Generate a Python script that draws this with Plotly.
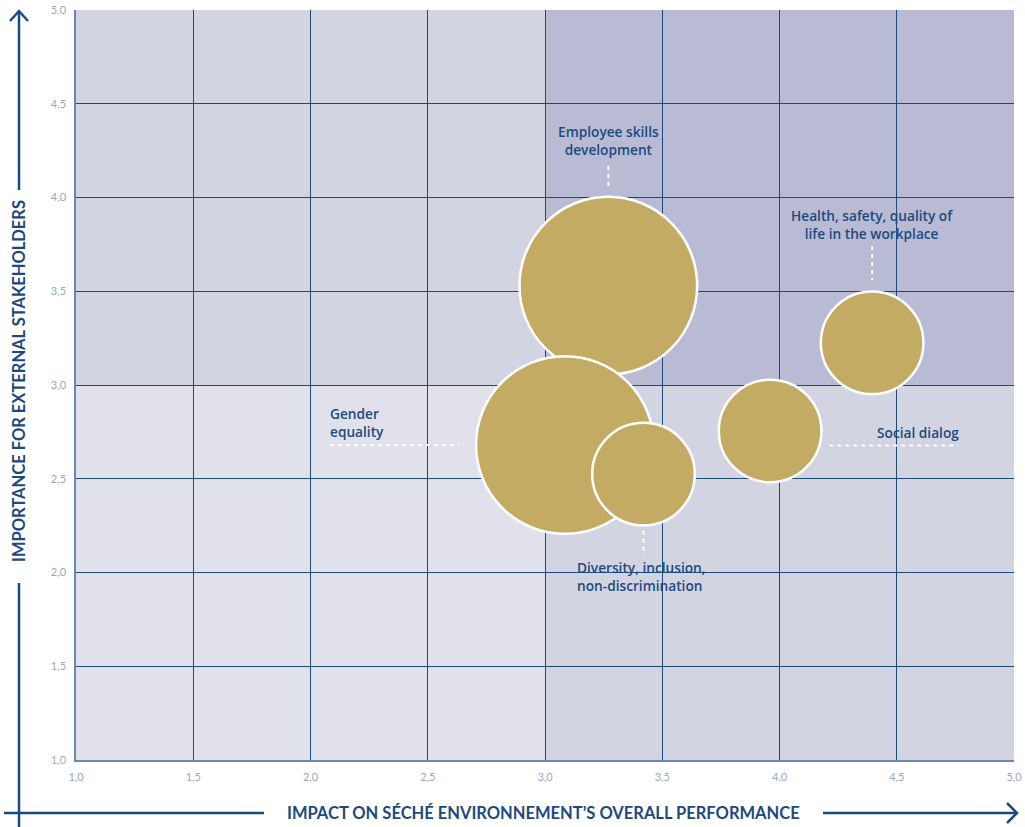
import plotly.graph_objects as go

# Materiality matrix: social topics
topics = [
    "Employee skills development",
    "Gender equality",
    "Diversity, inclusion, non-discrimination",
    "Social dialog",
    "Health, safety, quality of life in the workplace",
]
impact = [3.27, 3.085, 3.42, 3.96, 4.395]          # x: impact on overall performance
importance = [3.53, 2.68, 2.525, 2.755, 3.225]     # y: importance for stakeholders
weight = [3, 3, 1, 1, 1]                           # bubble weight (area)

ticks = [1.0, 1.5, 2.0, 2.5, 3.0, 3.5, 4.0, 4.5, 5.0]

NAVY = "#1d4a7e"
GOLD = "#c4ab64"
TICK = "#97a7c3"
FONT = "Lato"
LABEL_FONT = "Open Sans"

fig = go.Figure()

fig.add_trace(go.Scatter(
    x=impact, y=importance, mode="markers",
    text=topics, hoverinfo="text",
    marker=dict(size=weight, sizemode="area", sizeref=1.9 / 10000,
                color=GOLD, opacity=1, line=dict(color="white", width=2.5)),
    showlegend=False,
))

# Quadrant backgrounds
quads = [
    (1, 3, 3, 5, "#d3d4e2"),
    (3, 5, 3, 5, "#b9bbd4"),
    (1, 3, 1, 3, "#e0e1ea"),
    (3, 5, 1, 3, "#d3d4e2"),
]
shapes = []
for x0, x1, y0, y1, c in quads:
    shapes.append(dict(type="rect", xref="x", yref="y", x0=x0, x1=x1, y0=y0, y1=y1,
                       fillcolor=c, line=dict(width=0), layer="below"))

# Dashed connectors from labels to bubbles
dash = dict(color="white", width=2, dash="4px,4px")
connectors = [
    (impact[0], 4.17, impact[0], 4.05),
    (2.083, importance[1], 2.633, importance[1]),
    (impact[2], 2.223, impact[2], 2.093),
    (4.212, 2.678, 4.76, 2.678),
    (impact[4], 3.74, impact[4], 3.56),
]
for x0, y0, x1, y1 in connectors:
    shapes.append(dict(type="line", xref="x", yref="y", x0=x0, y0=y0, x1=x1, y1=y1,
                       line=dash, layer="above"))

# Axis arrows in paper coordinates (plot area spans 76..1014 x 10..760 px)
def px(x):
    return (x - 76) / 938

def py(y):
    return (760 - y) / 750

arrow = dict(color=NAVY, width=2.5)
shapes += [
    dict(type="line", xref="paper", yref="paper", x0=px(19), x1=px(19), y0=py(11), y1=py(190), line=arrow),
    dict(type="line", xref="paper", yref="paper", x0=px(19), x1=px(19), y0=py(583), y1=py(830), line=arrow),
    dict(type="path", xref="paper", yref="paper",
         path=f"M {px(10)} {py(21)} L {px(19)} {py(11)} L {px(28)} {py(21)}", line=arrow),
    dict(type="line", xref="paper", yref="paper", x0=px(4), x1=px(264), y0=py(813), y1=py(813), line=arrow),
    dict(type="line", xref="paper", yref="paper", x0=px(823), x1=px(1017), y0=py(813), y1=py(813), line=arrow),
    dict(type="path", xref="paper", yref="paper",
         path=f"M {px(1007)} {py(803)} L {px(1017)} {py(813)} L {px(1007)} {py(823)}", line=arrow),
]

lab = dict(family=LABEL_FONT, size=13.7, color=NAVY, weight=600)
annotations = [
    dict(x=impact[0], y=4.305, text="Employee skills<br>development", align="center",
         xanchor="center", yanchor="middle"),
    dict(x=2.074, y=2.8, text="Gender<br>equality", align="left",
         xanchor="left", yanchor="middle"),
    dict(x=3.126, y=1.979, text="Diversity, inclusion,<br>non-discrimination", align="left",
         xanchor="left", yanchor="middle"),
    dict(x=4.772, y=2.749, text="Social dialog", align="right",
         xanchor="right", yanchor="middle"),
    dict(x=impact[4], y=3.857, text="Health, safety, quality of<br>life in the workplace", align="center",
         xanchor="center", yanchor="middle"),
]
for a in annotations:
    a.update(xref="x", yref="y", showarrow=False, font=lab)

title_font = dict(family=FONT, size=16.5, color=NAVY, weight="bold")
annotations += [
    dict(xref="paper", yref="paper", x=px(543), y=py(813), showarrow=False,
         text="IMPACT ON SÉCHÉ ENVIRONNEMENT’S OVERALL PERFORMANCE",
         font=title_font, xanchor="center", yanchor="middle"),
    dict(xref="paper", yref="paper", x=px(19), y=py(381), showarrow=False,
         text="IMPORTANCE FOR EXTERNAL STAKEHOLDERS", textangle=-90,
         font=title_font, xanchor="center", yanchor="middle"),
]

axis_common = dict(
    range=[1, 5], tickvals=ticks, tickformat=".1f",
    showgrid=True, gridcolor=NAVY, gridwidth=1,
    showline=True, linecolor="#6a88b0", linewidth=1.5,
    zeroline=False, ticks="outside", ticklen=6, tickcolor="rgba(0,0,0,0)",
    tickfont=dict(family=FONT, size=11, color=TICK), fixedrange=True,
    automargin=False,
)

fig.update_layout(
    width=1025, height=827,
    margin=dict(l=76, r=11, t=10, b=67, autoexpand=False),
    paper_bgcolor="white", plot_bgcolor="white",
    separators=",.",
    xaxis=axis_common, yaxis=axis_common,
    shapes=shapes, annotations=annotations,
    showlegend=False,
)

fig.write_html("out.html")
